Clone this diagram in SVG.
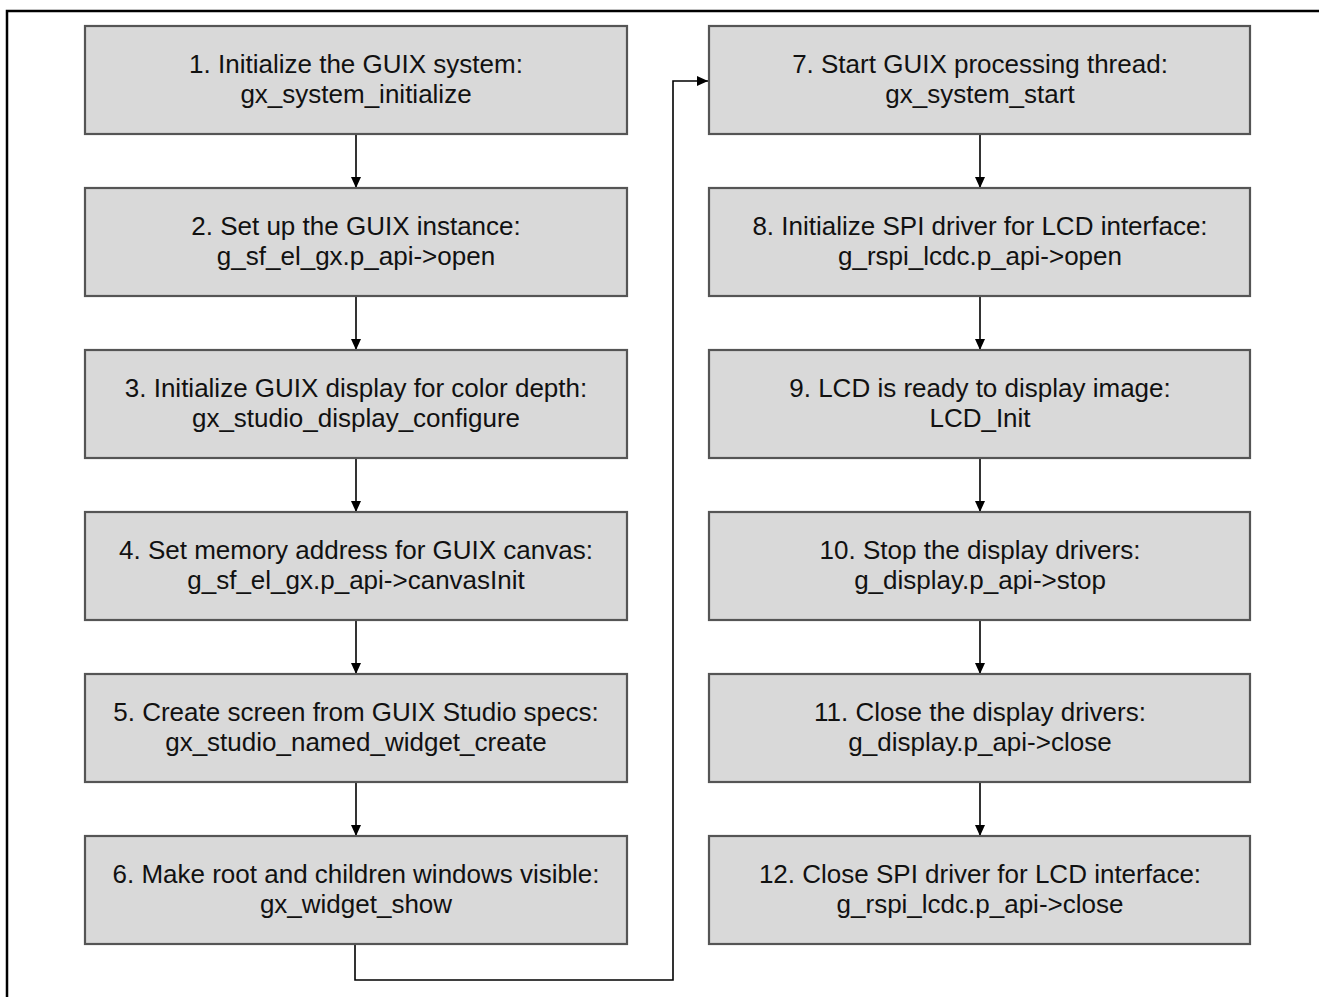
<svg xmlns="http://www.w3.org/2000/svg" width="1319" height="997" viewBox="0 0 1319 997">
<style>
.box{fill:#d9d9d9;stroke:#555;stroke-width:2.2}
.t{font-family:"Liberation Sans",Arial,sans-serif;font-size:26px;fill:#111;text-anchor:middle}
.c{fill:none;stroke:#000;stroke-width:1.6}
</style>
<defs>
<marker id="ah" markerWidth="11" markerHeight="10" refX="11" refY="5" orient="auto" markerUnits="userSpaceOnUse">
<path d="M0,0 L11,5 L0,10 Z" fill="#000"/>
</marker>
</defs>
<rect width="1319" height="997" fill="#fff"/>
<path d="M7,997 V11 H1319" fill="none" stroke="#000" stroke-width="2.5"/>
<g id="connectors">
<line class="c" x1="356" y1="135" x2="356" y2="188" marker-end="url(#ah)"/>
<line class="c" x1="356" y1="297" x2="356" y2="350" marker-end="url(#ah)"/>
<line class="c" x1="356" y1="459" x2="356" y2="512" marker-end="url(#ah)"/>
<line class="c" x1="356" y1="621" x2="356" y2="674" marker-end="url(#ah)"/>
<line class="c" x1="356" y1="783" x2="356" y2="836" marker-end="url(#ah)"/>
<polyline class="c" points="355,945 355,980 673,980 673,81 708,81" marker-end="url(#ah)"/>
<line class="c" x1="980" y1="135" x2="980" y2="188" marker-end="url(#ah)"/>
<line class="c" x1="980" y1="297" x2="980" y2="350" marker-end="url(#ah)"/>
<line class="c" x1="980" y1="459" x2="980" y2="512" marker-end="url(#ah)"/>
<line class="c" x1="980" y1="621" x2="980" y2="674" marker-end="url(#ah)"/>
<line class="c" x1="980" y1="783" x2="980" y2="836" marker-end="url(#ah)"/>
</g>
<g id="n1"><rect class="box" x="85" y="26" width="542" height="108"/><text class="t" x="356" y="73">1. Initialize the GUIX system:</text><text class="t" x="356" y="103">gx_system_initialize</text></g>
<g id="n2"><rect class="box" x="85" y="188" width="542" height="108"/><text class="t" x="356" y="235">2. Set up the GUIX instance:</text><text class="t" x="356" y="265">g_sf_el_gx.p_api-&gt;open</text></g>
<g id="n3"><rect class="box" x="85" y="350" width="542" height="108"/><text class="t" x="356" y="397">3. Initialize GUIX display for color depth:</text><text class="t" x="356" y="427">gx_studio_display_configure</text></g>
<g id="n4"><rect class="box" x="85" y="512" width="542" height="108"/><text class="t" x="356" y="559">4. Set memory address for GUIX canvas:</text><text class="t" x="356" y="589">g_sf_el_gx.p_api-&gt;canvasInit</text></g>
<g id="n5"><rect class="box" x="85" y="674" width="542" height="108"/><text class="t" x="356" y="721">5. Create screen from GUIX Studio specs:</text><text class="t" x="356" y="751">gx_studio_named_widget_create</text></g>
<g id="n6"><rect class="box" x="85" y="836" width="542" height="108"/><text class="t" x="356" y="883">6. Make root and children windows visible:</text><text class="t" x="356" y="913">gx_widget_show</text></g>
<g id="n7"><rect class="box" x="709" y="26" width="541" height="108"/><text class="t" x="980" y="73">7. Start GUIX processing thread:</text><text class="t" x="980" y="103">gx_system_start</text></g>
<g id="n8"><rect class="box" x="709" y="188" width="541" height="108"/><text class="t" x="980" y="235">8. Initialize SPI driver for LCD interface:</text><text class="t" x="980" y="265">g_rspi_lcdc.p_api-&gt;open</text></g>
<g id="n9"><rect class="box" x="709" y="350" width="541" height="108"/><text class="t" x="980" y="397">9. LCD is ready to display image:</text><text class="t" x="980" y="427">LCD_Init</text></g>
<g id="n10"><rect class="box" x="709" y="512" width="541" height="108"/><text class="t" x="980" y="559">10. Stop the display drivers:</text><text class="t" x="980" y="589">g_display.p_api-&gt;stop</text></g>
<g id="n11"><rect class="box" x="709" y="674" width="541" height="108"/><text class="t" x="980" y="721">11. Close the display drivers:</text><text class="t" x="980" y="751">g_display.p_api-&gt;close</text></g>
<g id="n12"><rect class="box" x="709" y="836" width="541" height="108"/><text class="t" x="980" y="883">12. Close SPI driver for LCD interface:</text><text class="t" x="980" y="913">g_rspi_lcdc.p_api-&gt;close</text></g>
</svg>
